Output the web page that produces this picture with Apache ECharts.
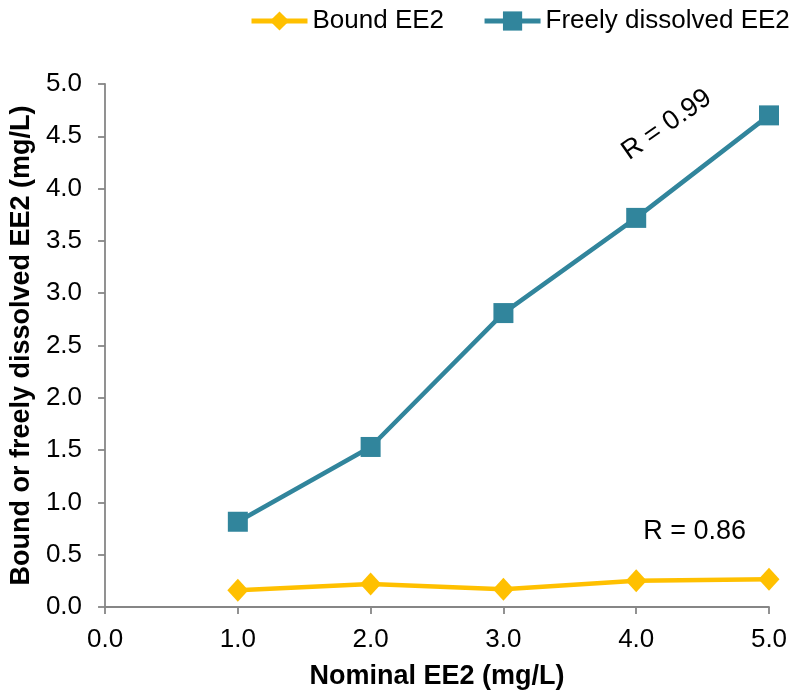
<!DOCTYPE html>
<html>
<head>
<meta charset="utf-8">
<script src="https://cdn.jsdelivr.net/npm/echarts@6/dist/echarts.min.js"></script>
<style>html,body{margin:0;padding:0;background:#fff;}#c{width:796px;height:695px;}</style>
</head>
<body>
<div id="c"></div>
<script>
const nominal = [1, 2, 3, 4, 5];
const boundEE2 = [0.16, 0.22, 0.17, 0.25, 0.265];
const freeEE2 = [0.815, 1.53, 2.81, 3.72, 4.70];
const xTicks = { min: 0, max: 5, interval: 1 };
const yTicks = { min: 0, max: 5, interval: 0.5 };
const annotations = [
  { text: 'R = 0.99', coord: [4.23, 4.61], rotate: 35 },
  { text: 'R = 0.86', coord: [4.44, 0.72], rotate: 0 }
];

const font = 'Liberation Sans, Arial, sans-serif';
const axisGray = '#868686';
const chart = echarts.init(document.getElementById('c'));
const pairs = arr => nominal.map((x, i) => [x, arr[i]]);
const annLabel = a => ({
  show: true, formatter: a.text, fontSize: 27, color: '#000', fontFamily: font,
  rotate: a.rotate, position: 'inside', align: 'center', verticalAlign: 'middle'
});

chart.setOption({
  animation: false,
  textStyle: { fontFamily: font },
  legend: {
    top: 8,
    left: 249,
    padding: 0,
    itemWidth: 56,
    itemHeight: 24,
    itemGap: 38,
    lineStyle: { width: 5 },
    textStyle: { fontSize: 26, color: '#000', fontFamily: font },
    data: ['Bound EE2', 'Freely dissolved EE2']
  },
  grid: { left: 104, right: 27, top: 84, bottom: 88, containLabel: false },
  xAxis: {
    type: 'value',
    min: xTicks.min, max: xTicks.max, interval: xTicks.interval,
    name: 'Nominal EE2 (mg/L)',
    nameLocation: 'middle',
    nameGap: 56,
    nameTextStyle: { fontSize: 27, fontWeight: 'bold', color: '#000', fontFamily: font },
    axisLine: { lineStyle: { color: axisGray, width: 1.8 } },
    axisTick: { show: true, length: 7, lineStyle: { color: axisGray, width: 1.8 } },
    axisLabel: { fontSize: 26, color: '#000', margin: 20, formatter: v => v.toFixed(1) },
    splitLine: { show: false }
  },
  yAxis: {
    type: 'value',
    min: yTicks.min, max: yTicks.max, interval: yTicks.interval,
    name: 'Bound or freely dissolved EE2 (mg/L)',
    nameLocation: 'middle',
    nameGap: 67,
    nameTextStyle: { fontSize: 27, fontWeight: 'bold', color: '#000', fontFamily: font },
    axisLine: { show: true, lineStyle: { color: axisGray, width: 1.8 } },
    axisTick: { show: true, length: 7, lineStyle: { color: axisGray, width: 1.8 } },
    axisLabel: { fontSize: 26, color: '#000', margin: 23, formatter: v => v.toFixed(1) },
    splitLine: { show: false }
  },
  series: [
    {
      name: 'Bound EE2',
      type: 'line',
      data: pairs(boundEE2),
      symbol: 'diamond',
      symbolSize: [21, 23],
      itemStyle: { color: '#FFC000' },
      lineStyle: { color: '#FFC000', width: 4.5 },
      markPoint: {
        symbol: 'circle', symbolSize: 0,
        data: [{ coord: annotations[1].coord, label: annLabel(annotations[1]) }]
      }
    },
    {
      name: 'Freely dissolved EE2',
      type: 'line',
      data: pairs(freeEE2),
      symbol: 'rect',
      symbolSize: 20,
      itemStyle: { color: '#31859C' },
      lineStyle: { color: '#31859C', width: 4.5 },
      markPoint: {
        symbol: 'circle', symbolSize: 0,
        data: [{ coord: annotations[0].coord, label: annLabel(annotations[0]) }]
      }
    }
  ]
});
</script>
</body>
</html>
